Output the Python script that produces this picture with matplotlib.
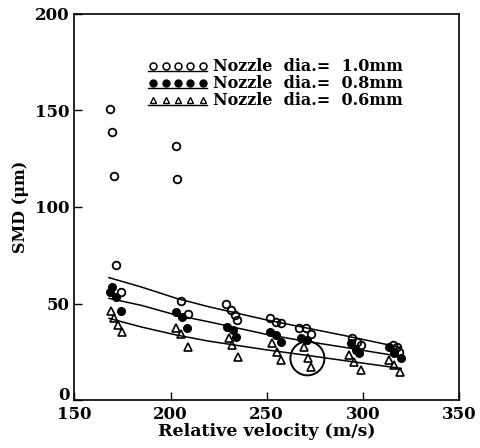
import matplotlib
matplotlib.use("Agg")
import matplotlib.pyplot as plt
import matplotlib.transforms as mtransforms
from matplotlib.lines import Line2D
from matplotlib.patches import Ellipse
from matplotlib.legend_handler import HandlerLine2D

plt.rcParams['font.family'] = ['DejaVu Serif']
plt.rcParams['font.weight'] = 'bold'

# datos leidos del grafico
# boquilla 1.0 mm (circulos abiertos)
vel10 = [168.4, 169.3, 170.5, 171.7, 174.3, 203.1, 203.5, 205.7, 209.0,
         229.0, 231.3, 233.3, 234.7, 252.0, 255.0, 257.6, 266.8, 270.3, 272.9,
         294.6, 297.2, 299.0, 315.5, 318.0, 318.9]
smd10 = [150.6, 138.7, 116.0, 70.0, 55.8, 131.8, 114.4, 51.5, 44.6,
         49.7, 46.6, 44.0, 41.5, 42.3, 40.6, 39.7, 37.1, 37.1, 34.2,
         32.0, 30.2, 28.5, 28.5, 27.6, 25.0]
# boquilla 0.8 mm (circulos llenos)
vel08 = [168.4, 169.3, 171.4, 174.3, 203.0, 206.0, 208.7, 229.5, 232.6, 233.9,
         252.0, 254.7, 257.3, 267.7, 271.2, 293.8, 296.4, 298.0, 313.7, 316.3, 319.8]
smd08 = [55.8, 58.7, 53.2, 46.3, 45.4, 43.2, 37.2, 38.0, 36.3, 32.8,
         35.4, 33.7, 30.2, 32.0, 31.1, 29.4, 25.9, 24.2, 27.6, 24.2, 21.6]
# boquilla 0.6 mm (triangulos)
vel06 = [168.8, 170.5, 172.6, 174.8, 203.1, 205.2, 209.0, 230.4, 232.1, 235.0,
         253.0, 255.6, 257.3, 269.4, 271.7, 273.0, 292.9, 295.5, 299.0, 313.7, 316.3, 319.4]
smd06 = [46.3, 42.3, 38.9, 35.0, 37.1, 34.2, 27.3, 32.0, 28.5, 22.4,
         29.4, 25.0, 20.7, 27.6, 21.6, 17.0, 23.3, 19.8, 15.5, 20.7, 18.1, 14.7]

# curvas de ajuste
velCurva = [168, 185, 203, 220, 250, 270, 290, 320]
curva10 = [63.4, 58.5, 52.7, 48.3, 41.5, 37.5, 33.5, 27.2]
curva08 = [52.7, 49.0, 44.0, 40.5, 34.0, 30.5, 27.4, 22.5]
curva06 = [42.3, 37.8, 33.7, 30.5, 26.0, 23.3, 20.5, 16.4]

etiquetas = ['Nozzle  dia.=  1.0mm', 'Nozzle  dia.=  0.8mm', 'Nozzle  dia.=  0.6mm']

# circulo marcado
centroCirculo = (271.2, 21.6)
anchoCirculo = 17.7
altoCirculo = 17.6


class HandlerSubrayado(HandlerLine2D):
    def create_artists(self, legend, orig_handle, xdescent, ydescent,
                       width, height, fontsize, trans):
        artistas = super().create_artists(legend, orig_handle, xdescent, ydescent,
                                          width, height, fontsize, trans)
        y = -ydescent + 0.02 * height
        linea = Line2D([-xdescent, width - xdescent], [y, y], color='black', lw=1.0)
        linea.set_transform(trans)
        return list(artistas) + [linea]


fig = plt.figure(figsize=(4.8, 4.48), dpi=100)
ax = fig.add_axes([0.155, 0.107, 0.801, 0.862])

ax.plot(velCurva, curva10, color='black', lw=1.1)
ax.plot(velCurva, curva08, color='black', lw=1.1)
ax.plot(velCurva, curva06, color='black', lw=1.1)

ax.plot(vel10, smd10, 'o', mfc='none', mec='black', mew=1.3, ms=5.5)
ax.plot(vel08, smd08, 'o', mfc='black', mec='black', ms=5.5)
ax.plot(vel06, smd06, '^', mfc='none', mec='black', mew=1.2, ms=5.5)

ax.add_patch(Ellipse(centroCirculo, anchoCirculo, altoCirculo,
                     fill=False, color='black', lw=1.4))

handles = [
    Line2D([], [], ls='none', marker='o', mfc='none', mec='black', mew=1.1, ms=5),
    Line2D([], [], ls='none', marker='o', mfc='black', mec='black', ms=5),
    Line2D([], [], ls='none', marker='^', mfc='none', mec='black', mew=1.0, ms=5),
]
leg = ax.legend(handles, etiquetas, loc='upper left', bbox_to_anchor=(0.155, 0.922),
                numpoints=5, handlelength=3.7, handletextpad=0.35, labelspacing=0.0,
                frameon=False, prop={'size': 11.5, 'weight': 'bold'},
                handler_map={Line2D: HandlerSubrayado()})

ax.set_xlim(150, 350)
ax.set_ylim(0, 200)
ax.set_xticks([150, 200, 250, 300, 350])
ax.set_yticks([0, 50, 100, 150, 200])
ax.tick_params(direction='in', length=6, width=1, labelsize=12)
ax.tick_params(axis='x', pad=4)

# subir un poco el "0" para que no pise el "150"
etiqueta0 = ax.yaxis.get_major_ticks()[0].label1
etiqueta0.set_transform(etiqueta0.get_transform() +
                        mtransforms.ScaledTranslation(0, 5 / 72, fig.dpi_scale_trans))

for s in ax.spines.values():
    s.set_linewidth(1.2)

ax.set_xlabel("Relative velocity (m/s)", fontsize=12.5, fontweight='bold', labelpad=0)
ax.set_ylabel("SMD (μm)", fontsize=11.5, fontweight='bold', labelpad=4)

plt.savefig("out.png", dpi=100)
